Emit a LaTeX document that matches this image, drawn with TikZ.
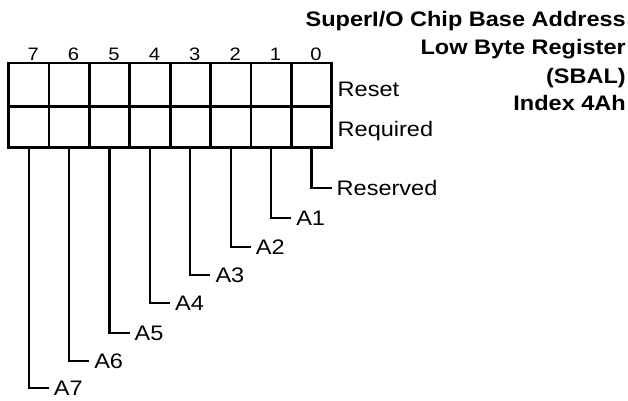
\documentclass[tikz,border=0pt]{standalone}
\usepackage{fontspec}
\setmainfont{Liberation Sans}[FakeStretch=1.12]
\begin{document}
\begin{tikzpicture}[x=1pt,y=-1pt,
  cellbox/.style={draw,line width=2.8pt,minimum width=40.4pt,inner sep=0pt,outer sep=0pt,anchor=north west},
  digit/.style={font=\fontsize{18}{20}\selectfont,inner sep=0pt,anchor=base},
  lbl/.style={font=\fontsize{21}{24}\selectfont,inner sep=0pt,text height=15pt,text depth=0pt,anchor=west},
  ttl/.style={font=\bfseries\fontsize{21}{24}\selectfont,inner sep=0pt,anchor=base east},
  conn/.style={line width=2.2pt}]
\useasboundingbox (0,0) rectangle (628,400);
% register cells
\foreach \b in {0,...,7}{
  \node[cellbox,minimum height=43.3pt] (r\b) at ({8.5+(7-\b)*40.4},63) {};
  \node[cellbox,minimum height=41pt] (q\b) at ({8.5+(7-\b)*40.4},106.3) {};
  \node[digit] (d\b) at ({8.5+(7-\b)*40.4+20.2+4.5},60) {\b};
}
% row labels
\node[lbl] (reset) at (337.5,89.2) {Reset};
\node[lbl] (required) at (337.5,129.2) {Required};
% field labels and connectors
\foreach \b/\y/\t in {0/188/Reserved,1/218/A1,2/247/A2,3/275/A3,4/303/A4,5/333/A5,6/361/A6,7/388/A7}{
  \node[lbl] (f\b) at ({8.5+(7-\b)*40.4+20.2+25},\y) {\t};
  \draw[conn] (q\b.south) |- ([xshift=-5pt]f\b.west);
}
% title
\node[ttl] (t1) at (626,26.7) {SuperI/O Chip Base Address};
\node[ttl] (t2) at (626,54.8) {Low Byte Register};
\node[ttl] (t3) at (626,83.3) {(SBAL)};
\node[ttl] (t4) at (626,110.5) {Index 4Ah};
\end{tikzpicture}
\end{document}
